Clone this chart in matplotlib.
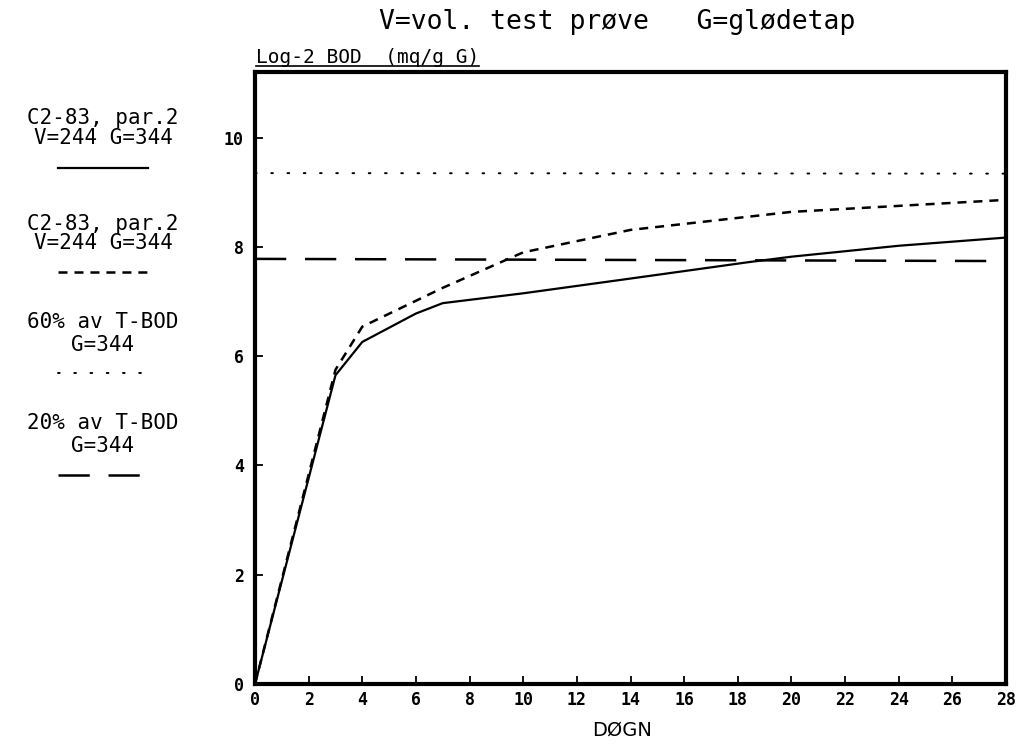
import matplotlib
matplotlib.use("Agg")
import matplotlib.pyplot as plt
from matplotlib.lines import Line2D

plt.rcParams['font.family'] = ['DejaVu Sans Mono', 'DejaVu Sans']
plt.rcParams['lines.scale_dashes'] = False

# ---- data ----
days_solid = [0, 3, 4, 6, 7, 10, 14, 18.4, 20, 24, 28]
bod_solid = [0, 5.65, 6.26, 6.78, 6.97, 7.15, 7.42, 7.72, 7.82, 8.02, 8.17]

days_dash = [0, 3, 4, 7, 10, 14, 20, 24, 28]
bod_dash = [0, 5.75, 6.54, 7.25, 7.9, 8.31, 8.64, 8.75, 8.86]

days_ref = [0, 28]
bod_60 = [9.35, 9.34]
bod_20 = [7.78, 7.74]

xticks = list(range(0, 29, 2))
yticks = [0, 2, 4, 6, 8, 10]

title = "V=vol. test prøve   G=glødetap"
ylabel = "Log-2 BOD  (mq/g G)"
xlabel = "DØGN"
legend_texts = [
    ("C2-83, par.2", "V=244 G=344"),
    ("C2-83, par.2", "V=244 G=344"),
    ("60% av T-BOD", "G=344"),
    ("20% av T-BOD", "G=344"),
]

W, H = 1018, 752
fig = plt.figure(figsize=(W / 100, H / 100), dpi=100)
ax = fig.add_axes([255 / W, 1 - 684 / H, (1006 - 255) / W, (684 - 72) / H])

# styles
solid_style = dict(color='black', lw=1.6, linestyle='-')
dash_style = dict(color='black', lw=1.8, linestyle=(0, (6.5, 5.0)))
dot_style = dict(color='black', lw=1.4, linestyle=(0, (1.2, 10.5)), dash_capstyle='round')
long_style = dict(color='black', lw=1.8, linestyle=(0, (22.5, 13.5)))

ax.plot(days_solid, bod_solid, **solid_style)
ax.plot(days_dash, bod_dash, **dash_style)
ax.plot(days_ref, bod_60, **dot_style)
ax.plot(days_ref, bod_20, **long_style)

ax.set_xlim(0, 28)
ax.set_ylim(0, 11.2)
ax.set_xticks(xticks)
ax.set_yticks(yticks)
for s in ax.spines.values():
    s.set_linewidth(3)
ax.tick_params(direction='in', length=6, width=1.3, labelsize=12)
ax.tick_params(axis='x', pad=5)
ax.tick_params(axis='y', pad=8)
for lab in ax.get_xticklabels() + ax.get_yticklabels():
    lab.set_fontweight('bold')

fig.text(617 / W, 1 - 22 / H, title, ha='center', va='center', fontsize=19)
t = fig.text(256 / W, 1 - 63 / H, ylabel, ha='left', va='baseline', fontsize=14)
fig.canvas.draw()
bb = t.get_window_extent()
fig.add_artist(Line2D([bb.x0 / W, bb.x1 / W], [1 - 66 / H, 1 - 66 / H],
                      transform=fig.transFigure, color='black', lw=1.2))
fig.text(622 / W, 1 - 730 / H, xlabel, ha='center', va='center', fontsize=14,
         family='DejaVu Sans')

# legend on the left
blocks = [
    (118, 138, 168, solid_style),
    (224, 243, 272, dash_style),
    (322, 345, 373, dot_style),
    (423, 446, 475, long_style),
]
for (y1, y2, yl, st), (l1, l2) in zip(blocks, legend_texts):
    fig.text(103 / W, 1 - y1 / H, l1, ha='center', va='center', fontsize=15)
    fig.text(103 / W, 1 - y2 / H, l2, ha='center', va='center', fontsize=15)
    fig.add_artist(Line2D([58 / W, 148 / W], [1 - yl / H, 1 - yl / H],
                          transform=fig.transFigure, **st))

fig.savefig("out.png", dpi=100)
